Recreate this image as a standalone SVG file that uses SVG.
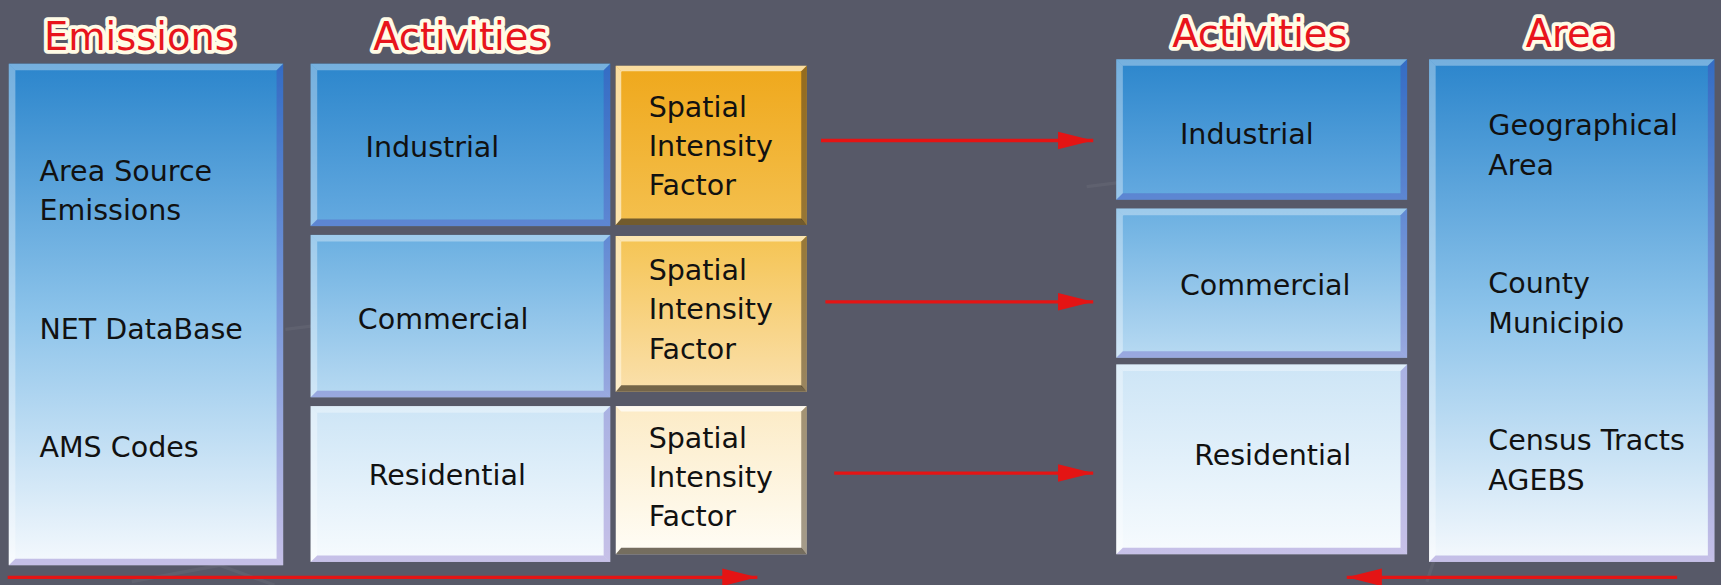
<svg xmlns="http://www.w3.org/2000/svg" width="1721" height="585" viewBox="0 0 1721 585">
<defs>
<style>
.t{font-family:"DejaVu Sans","Liberation Sans",sans-serif;font-size:26px;fill:#111}
.h{font-family:"DejaVu Sans","Liberation Sans",sans-serif;font-size:35px;fill:#e8141c;stroke:#fffbe6;stroke-width:7;stroke-linejoin:round;paint-order:stroke}
.hi{fill:#ffffff;opacity:0.35}
.sh{fill:#4a2cb0;opacity:0.28}
.con{stroke:#e41414;stroke-width:3;fill:none}
</style>
<linearGradient id="gTall" x1="0" y1="0" x2="0" y2="1"><stop offset="0" stop-color="#2b85cc"/><stop offset="0.5" stop-color="#8cc3ea"/><stop offset="1" stop-color="#f5f9fd"/></linearGradient>
<linearGradient id="g1" x1="0" y1="0" x2="0" y2="1"><stop offset="0" stop-color="#2c86cc"/><stop offset="1" stop-color="#65aae0"/></linearGradient>
<linearGradient id="g2" x1="0" y1="0" x2="0" y2="1"><stop offset="0" stop-color="#6aafe1"/><stop offset="1" stop-color="#b8daf2"/></linearGradient>
<linearGradient id="g3" x1="0" y1="0" x2="0" y2="1"><stop offset="0" stop-color="#cde5f6"/><stop offset="1" stop-color="#f7fbfe"/></linearGradient>
<linearGradient id="o1" x1="0" y1="0" x2="0" y2="1"><stop offset="0" stop-color="#efa81c"/><stop offset="1" stop-color="#f4c04e"/></linearGradient>
<linearGradient id="o2" x1="0" y1="0" x2="0" y2="1"><stop offset="0" stop-color="#f5c453"/><stop offset="1" stop-color="#fae0ac"/></linearGradient>
<linearGradient id="o3" x1="0" y1="0" x2="0" y2="1"><stop offset="0" stop-color="#fcebc6"/><stop offset="1" stop-color="#fffdf6"/></linearGradient>
<marker id="ar" markerWidth="34" markerHeight="18" refX="32" refY="9" orient="auto" markerUnits="userSpaceOnUse"><path d="M0,1 L32,9 L0,17 Z" fill="#e41414"/></marker>
</defs>
<rect width="1721" height="585" fill="#575968"/>
<g transform="scale(1.0976)">
<g opacity="0.05" stroke="#ffffff" stroke-width="3" fill="none">
<path d="M260,300 L420,280 L470,330"/>
<path d="M990,170 L1070,160 L1120,130"/>
<path d="M1300,530 L1310,500"/>
<path d="M120,530 L200,515 L250,533"/>
</g>
<g id="titles">
<text class="h" x="40" y="46">Emissions</text>
<text class="h" x="340" y="46">Activities</text>
<text class="h" x="1068" y="43">Activities</text>
<text class="h" x="1390" y="43">Area</text>
</g>
<g id="emissions">
<rect x="8" y="58" width="250" height="457" fill="url(#gTall)"/>
<polygon class="hi" points="8,58 258,58 252,64 14,64"/>
<polygon class="hi" points="8,58 14,64 14,509 8,515"/>
<polygon class="sh" points="258,58 258,515 252,509 252,64"/>
<polygon class="sh" points="8,515 258,515 252,509 14,509"/>
<text class="t" x="36" y="165">Area Source</text>
<text class="t" x="36" y="200">Emissions</text>
<text class="t" x="36" y="309">NET DataBase</text>
<text class="t" x="36" y="416">AMS Codes</text>
</g>
<g id="act-industrial">
<rect x="283" y="58" width="273" height="148" fill="url(#g1)"/>
<polygon class="hi" points="283,58 556,58 550,64 289,64"/>
<polygon class="hi" points="283,58 289,64 289,200 283,206"/>
<polygon class="sh" points="556,58 556,206 550,200 550,64"/>
<polygon class="sh" points="283,206 556,206 550,200 289,200"/>
<text class="t" x="333" y="143">Industrial</text>
</g>
<g id="act-commercial">
<rect x="283" y="214" width="273" height="148" fill="url(#g2)"/>
<polygon class="hi" points="283,214 556,214 550,220 289,220"/>
<polygon class="hi" points="283,214 289,220 289,356 283,362"/>
<polygon class="sh" points="556,214 556,362 550,356 550,220"/>
<polygon class="sh" points="283,362 556,362 550,356 289,356"/>
<text class="t" x="326" y="300">Commercial</text>
</g>
<g id="act-residential">
<rect x="283" y="370" width="273" height="142" fill="url(#g3)"/>
<polygon class="hi" points="283,370 556,370 550,376 289,376"/>
<polygon class="hi" points="283,370 289,376 289,506 283,512"/>
<polygon class="sh" points="556,370 556,512 550,506 550,376"/>
<polygon class="sh" points="283,512 556,512 550,506 289,506"/>
<text class="t" x="336" y="442">Residential</text>
</g>
<g id="sif-1">
<rect x="561" y="60" width="174" height="145" fill="url(#o1)"/>
<polygon points="561,60 735,60 730,65 566,65" fill="#fff4d8" opacity="0.7"/>
<polygon points="561,60 566,65 566,200 561,205" fill="#fff4d8" opacity="0.7"/>
<polygon points="735,60 735,205 730,200 730,65" fill="#4a3a20" opacity="0.55"/>
<polygon points="561,205 735,205 730,199 566,199" fill="#3a3020" opacity="0.7"/>
<text class="t" x="591" y="107">Spatial</text>
<text class="t" x="591" y="142">Intensity</text>
<text class="t" x="591" y="178">Factor</text>
</g>
<g id="sif-2">
<rect x="561" y="215" width="174" height="142" fill="url(#o2)"/>
<polygon points="561,215 735,215 730,220 566,220" fill="#fff4d8" opacity="0.7"/>
<polygon points="561,215 566,220 566,352 561,357" fill="#fff4d8" opacity="0.7"/>
<polygon points="735,215 735,357 730,352 730,220" fill="#4a3a20" opacity="0.55"/>
<polygon points="561,357 735,357 730,351 566,351" fill="#3a3020" opacity="0.7"/>
<text class="t" x="591" y="255">Spatial</text>
<text class="t" x="591" y="291">Intensity</text>
<text class="t" x="591" y="327">Factor</text>
</g>
<g id="sif-3">
<rect x="561" y="370" width="174" height="135" fill="url(#o3)"/>
<polygon points="561,370 735,370 730,375 566,375" fill="#ffffff" opacity="0.7"/>
<polygon points="735,370 735,505 730,500 730,375" fill="#4a3a20" opacity="0.5"/>
<polygon points="561,505 735,505 730,499 566,499" fill="#3a3020" opacity="0.7"/>
<text class="t" x="591" y="408">Spatial</text>
<text class="t" x="591" y="444">Intensity</text>
<text class="t" x="591" y="479">Factor</text>
</g>
<g id="ract-industrial">
<rect x="1017" y="54" width="265" height="128" fill="url(#g1)"/>
<polygon class="hi" points="1017,54 1282,54 1276,60 1023,60"/>
<polygon class="hi" points="1017,54 1023,60 1023,176 1017,182"/>
<polygon class="sh" points="1282,54 1282,182 1276,176 1276,60"/>
<polygon class="sh" points="1017,182 1282,182 1276,176 1023,176"/>
<text class="t" x="1075" y="131">Industrial</text>
</g>
<g id="ract-commercial">
<rect x="1017" y="190" width="265" height="136" fill="url(#g2)"/>
<polygon class="hi" points="1017,190 1282,190 1276,196 1023,196"/>
<polygon class="hi" points="1017,190 1023,196 1023,320 1017,326"/>
<polygon class="sh" points="1282,190 1282,326 1276,320 1276,196"/>
<polygon class="sh" points="1017,326 1282,326 1276,320 1023,320"/>
<text class="t" x="1075" y="269">Commercial</text>
</g>
<g id="ract-residential">
<rect x="1017" y="332" width="265" height="173" fill="url(#g3)"/>
<polygon class="hi" points="1017,332 1282,332 1276,338 1023,338"/>
<polygon class="hi" points="1017,332 1023,338 1023,499 1017,505"/>
<polygon class="sh" points="1282,332 1282,505 1276,499 1276,338"/>
<polygon class="sh" points="1017,505 1282,505 1276,499 1023,499"/>
<text class="t" x="1088" y="424">Residential</text>
</g>
<g id="area">
<rect x="1302" y="54" width="260" height="458" fill="url(#gTall)"/>
<polygon class="hi" points="1302,54 1562,54 1556,60 1308,60"/>
<polygon class="hi" points="1302,54 1308,60 1308,506 1302,512"/>
<polygon class="sh" points="1562,54 1562,512 1556,506 1556,60"/>
<polygon class="sh" points="1302,512 1562,512 1556,506 1308,506"/>
<text class="t" x="1356" y="123">Geographical</text>
<text class="t" x="1356" y="159">Area</text>
<text class="t" x="1356" y="267">County</text>
<text class="t" x="1356" y="303">Municipio</text>
<text class="t" x="1356" y="410">Census Tracts</text>
<text class="t" x="1356" y="446">AGEBS</text>
</g>
<g id="connectors">
<line class="con" x1="748" y1="128" x2="996" y2="128" marker-end="url(#ar)"/>
<line class="con" x1="752" y1="275" x2="996" y2="275" marker-end="url(#ar)"/>
<line class="con" x1="760" y1="431" x2="996" y2="431" marker-end="url(#ar)"/>
<line class="con" x1="7" y1="526" x2="690" y2="526" marker-end="url(#ar)"/>
<line class="con" x1="1528" y1="526" x2="1227" y2="526" marker-end="url(#ar)"/>
</g>
</g>
</svg>
